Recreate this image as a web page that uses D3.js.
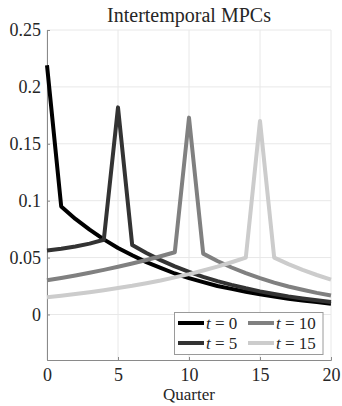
<!DOCTYPE html>
<html>
<head>
<meta charset="utf-8">
<script src="https://cdn.jsdelivr.net/npm/d3@7"></script>
<style>
  body { margin: 0; background: #fff; }
  text { font-family: "Liberation Serif", "DejaVu Serif", serif; fill: #262626; }
</style>
</head>
<body>
<svg id="chart" width="342" height="406"></svg>
<script>
// quarters and MPC paths
var quarters = d3.range(0, 21)
var mpc0 = [0.219, 0.095, 0.084, 0.0745, 0.066, 0.0585, 0.052, 0.046, 0.041, 0.036, 0.032,
            0.0285, 0.025, 0.0225, 0.020, 0.0177, 0.0157, 0.0139, 0.0123, 0.011, 0.0095]
var mpc5 = [0.0562, 0.0578, 0.0598, 0.0623, 0.0657, 0.182, 0.061, 0.054, 0.0478, 0.0423, 0.0374,
            0.0331, 0.0293, 0.026, 0.023, 0.0203, 0.018, 0.0159, 0.0141, 0.0125, 0.011]
var mpc10 = [0.030, 0.0321, 0.0343, 0.0367, 0.0392, 0.0419, 0.0448, 0.0479, 0.0512, 0.0547, 0.173,
             0.0535, 0.047, 0.0413, 0.0363, 0.0319, 0.028, 0.0246, 0.0217, 0.019, 0.0167]
var mpc15 = [0.0152, 0.0165, 0.018, 0.0196, 0.0213, 0.0232, 0.0252, 0.0275, 0.0299, 0.0326, 0.0355,
             0.0387, 0.0421, 0.0459, 0.050, 0.170, 0.050, 0.0443, 0.0392, 0.0347, 0.0307]
var seriesLabels = ["0", "5", "10", "15"]
var seriesColors = ["#000000", "#333333", "#808080", "#cccccc"]
var xTicks = [0, 5, 10, 15, 20]
var yTicks = [0, 0.05, 0.1, 0.15, 0.2, 0.25]

var allSeries = [mpc0, mpc5, mpc10, mpc15]

var svg = d3.select("#chart")
var pLeft = 47, pRight = 331, pTop = 30, pBottom = 360

var x = d3.scaleLinear().domain([0, 20]).range([pLeft, pRight])
var y = d3.scaleLinear().domain([-0.04, 0.25]).range([pBottom, pTop])

// grid
var grid = svg.append("g").attr("class", "grid")
grid.selectAll("line.gx").data(xTicks).enter().append("line")
    .attr("x1", function (d) { return x(d) }).attr("x2", function (d) { return x(d) })
    .attr("y1", pTop).attr("y2", pBottom)
    .attr("stroke", "#e8e8e8").attr("stroke-width", 1)
grid.selectAll("line.gy").data(yTicks).enter().append("line")
    .attr("y1", function (d) { return y(d) }).attr("y2", function (d) { return y(d) })
    .attr("x1", pLeft).attr("x2", pRight)
    .attr("stroke", "#e8e8e8").attr("stroke-width", 1)

// axes
var xAxis = d3.axisBottom(x).tickValues(xTicks).tickSize(-3).tickPadding(8)
    .tickFormat(d3.format("d"))
var yAxis = d3.axisLeft(y).tickValues(yTicks).tickSize(-3).tickPadding(6)
    .tickFormat(function (d) { return d === 0 ? "0" : String(+d.toFixed(2)) })

var gx = svg.append("g").attr("transform", "translate(0," + pBottom + ")").call(xAxis)
var gy = svg.append("g").attr("transform", "translate(" + pLeft + ",0)").call(yAxis)
;[gx, gy].forEach(function (g) {
    g.select(".domain").attr("stroke", "#8a8a8a").attr("stroke-width", 1)
    g.selectAll(".tick line").attr("stroke", "#8a8a8a")
    g.selectAll(".tick text").style("font-family", "'Liberation Serif', serif")
        .style("font-size", "18px").attr("fill", "#262626")
})

// lines
var line = d3.line()
    .x(function (d, i) { return x(quarters[i]) })
    .y(function (d) { return y(d) })

svg.append("g").attr("class", "lines")
    .selectAll("path")
    .data(allSeries)
    .enter().append("path")
    .attr("d", line)
    .attr("fill", "none")
    .attr("stroke", function (d, i) { return seriesColors[i] })
    .attr("stroke-width", 4)
    .attr("stroke-linejoin", "round")

// title and label
svg.append("text").attr("x", (pLeft + pRight) / 2).attr("y", 22)
    .attr("text-anchor", "middle").style("font-size", "20px")
    .text("Intertemporal MPCs")
svg.append("text").attr("x", (pLeft + pRight) / 2).attr("y", 400)
    .attr("text-anchor", "middle").style("font-size", "17px")
    .text("Quarter")

// legend
var lg = svg.append("g").attr("class", "legend")
lg.append("rect").attr("x", 174.5).attr("y", 312.5).attr("width", 148.5).attr("height", 42)
    .attr("fill", "#fff").attr("stroke", "#9a9a9a").attr("stroke-width", 1)

var legPos = [[178, 323], [178, 343], [248, 323], [248, 343]]
seriesLabels.forEach(function (lab, i) {
    var p = legPos[i]
    lg.append("line").attr("x1", p[0]).attr("x2", p[0] + 26)
        .attr("y1", p[1]).attr("y2", p[1])
        .attr("stroke", seriesColors[i]).attr("stroke-width", 4)
    var t = lg.append("text").attr("x", p[0] + 28).attr("y", p[1] + 6)
        .style("font-size", "17px").attr("fill", "#000")
    t.append("tspan").style("font-style", "italic").text("t")
    t.append("tspan").text(" = " + lab)
})
</script>
</body>
</html>
